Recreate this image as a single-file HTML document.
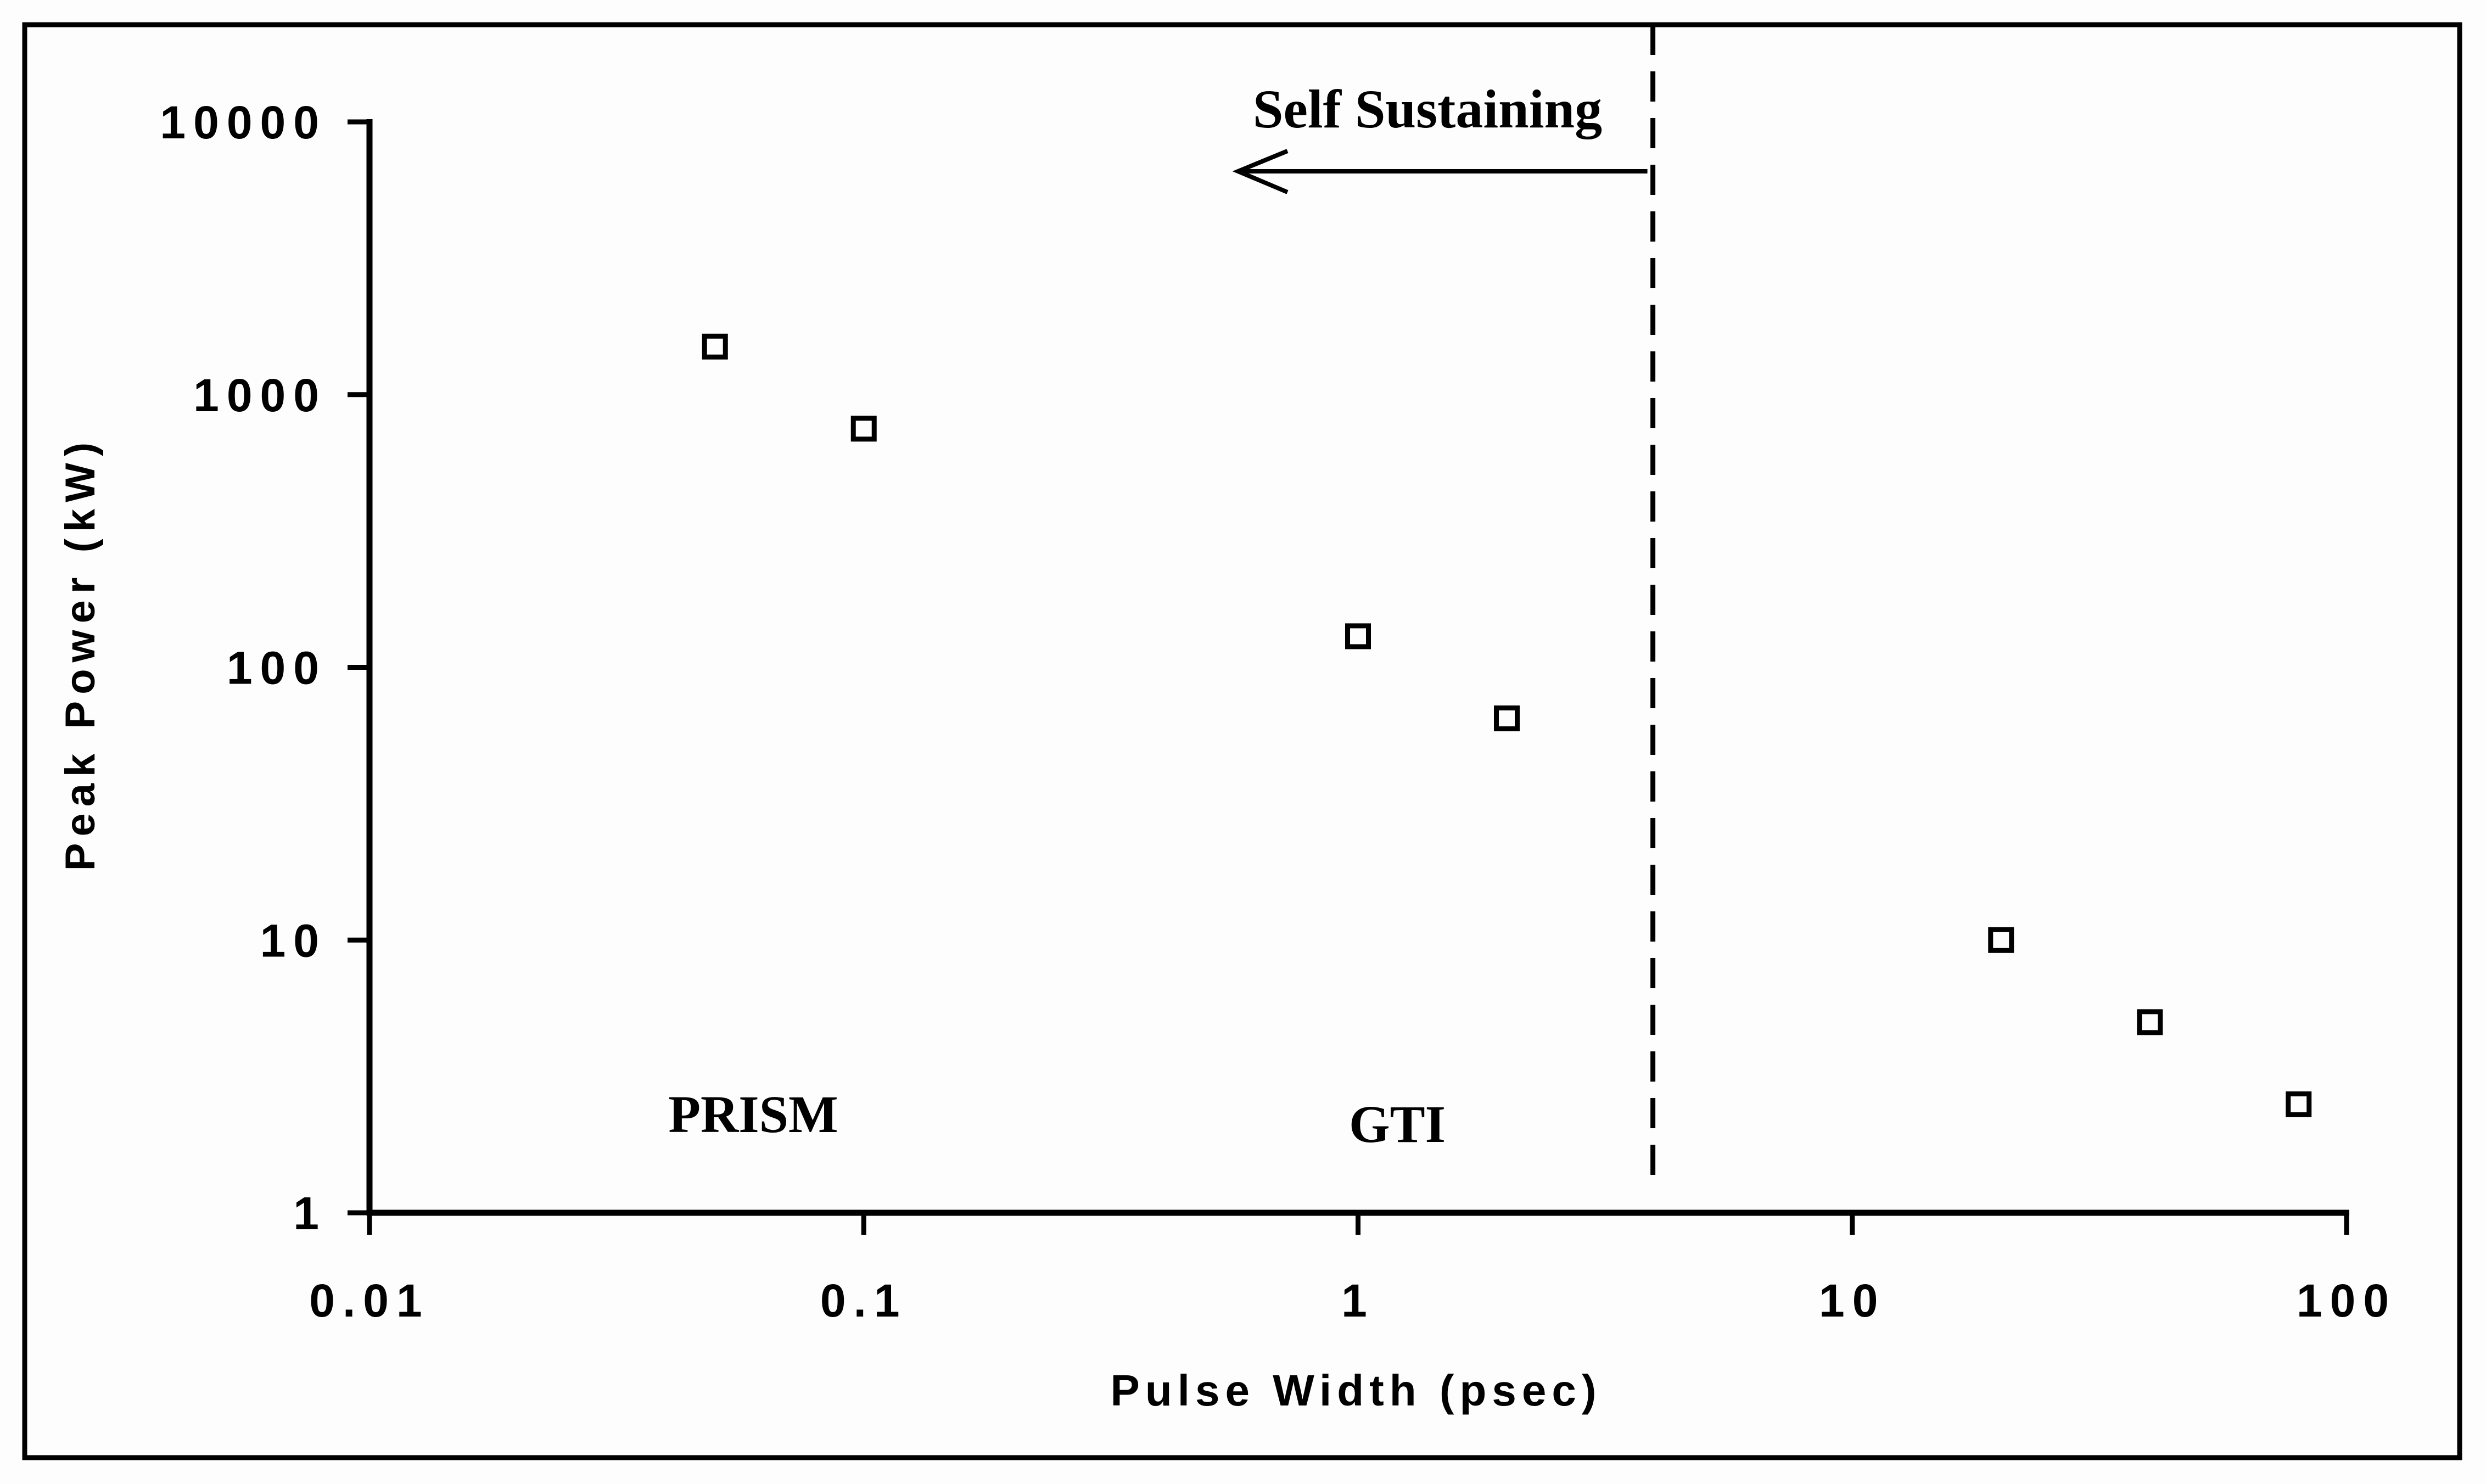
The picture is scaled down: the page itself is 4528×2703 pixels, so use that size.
<!DOCTYPE html>
<html><head><meta charset="utf-8"><style>html,body{margin:0;padding:0;background:#fff}svg{display:block}</style></head>
<body>
<svg width="4528" height="2703" viewBox="0 0 4528 2703" xmlns="http://www.w3.org/2000/svg">
<rect x="0" y="0" width="4528" height="2703" fill="#fdfdfd"/>
<rect x="45" y="45" width="4435" height="2610" fill="none" stroke="#000" stroke-width="9"/>
<g id="plot"></g>
</svg>
<script>
const xValues = [0.05, 0.1, 1, 2, 20, 40, 80];
const yValues = [1500, 750, 130, 65, 10, 5, 2.5];
const xTicks = [0.01, 0.1, 1, 10, 100];
const xTickLabels = ["0.01", "0.1", "1", "10", "100"];
const yTicks = [1, 10, 100, 1000, 10000];
const yTickLabels = ["1", "10", "100", "1000", "10000"];
const boundaryX = [3.95];

const NS = "http://www.w3.org/2000/svg";
const g = document.getElementById("plot");
const X0 = 673, X1 = 4274, Y0 = 2209, Y1 = 222;
function xs(v){ return X0 + (Math.log10(v) + 2) / 4 * (X1 - X0); }
function ys(v){ return Y0 - Math.log10(v) / 4 * (Y0 - Y1); }
function mk(tag, attrs){ const e = document.createElementNS(NS, tag); for (const k in attrs) e.setAttribute(k, attrs[k]); g.appendChild(e); return e; }

let e;
e = mk("line", {x1: X0, y1: Y1 - 5, x2: X0, y2: Y0 + 5, stroke: "#000", "stroke-width": 11});


e = mk("line", {x1: X0 - 5, y1: Y0, x2: X1 + 5, y2: Y0, stroke: "#000", "stroke-width": 11});



yTicks.forEach((t, i) => {
  const y = ys(t);
  let l = mk("line", {x1: X0 - 40, y1: y, x2: X0, y2: y, stroke: "#000", "stroke-width": 9});
  
  
  let tx = mk("text", {x: 595, y: y + 30, "text-anchor": "end", "font-family": "Liberation Sans, sans-serif", "font-weight": "bold", "font-size": 84, "letter-spacing": 14});
  tx.textContent = yTickLabels[i];
  
  
});
xTicks.forEach((t, i) => {
  const x = xs(t);
  let l = mk("line", {x1: x, y1: Y0, x2: x, y2: Y0 + 40, stroke: "#000", "stroke-width": 9});
  
  
  let tx = mk("text", {x: x, y: 2398, "text-anchor": "middle", "font-family": "Liberation Sans, sans-serif", "font-weight": "bold", "font-size": 84, "letter-spacing": 14});
  tx.textContent = xTickLabels[i];
  
  
});

const bx = xs(boundaryX[0]);
e = mk("line", {x1: bx, y1: 45, x2: bx, y2: 2170, stroke: "#000", "stroke-width": 9, "stroke-dasharray": "55 30"});


e = mk("path", {d: `M${bx - 10} 312 L2255 312 M2345 275 L2255 312 L2345 350`, fill: "none", stroke: "#000", "stroke-width": 8});



xValues.forEach((v, i) => {
  const x = xs(v), y = ys(yValues[i]);
  let r = mk("rect", {x: x - 19, y: y - 19, width: 38, height: 38, fill: "none", stroke: "#000", "stroke-width": 9});
  
  
});

function label(txt, x, y, size, fam, anchor, name, rot, ls){
  let t = mk("text", {x: x, y: y, "text-anchor": anchor, "font-family": fam, "font-weight": "bold", "font-size": size, "letter-spacing": ls || 0});
  if (rot) t.setAttribute("transform", `rotate(-90 ${x} ${y})`);
  t.textContent = txt;
  
  
}
label("Self Sustaining", 2600, 232, 100, "Liberation Serif, serif", "middle", "self-sustaining-label");
label("PRISM", 1372, 2062, 96, "Liberation Serif, serif", "middle", "prism-label");
label("GTI", 2545, 2080, 96, "Liberation Serif, serif", "middle", "gti-label");
label("Pulse Width (psec)", 2470, 2560, 80, "Liberation Sans, sans-serif", "middle", "x-axis-title", false, 10);
label("Peak Power (kW)", 172, 1190, 76, "Liberation Sans, sans-serif", "middle", "y-axis-title", true, 12);
</script>
</body></html>
